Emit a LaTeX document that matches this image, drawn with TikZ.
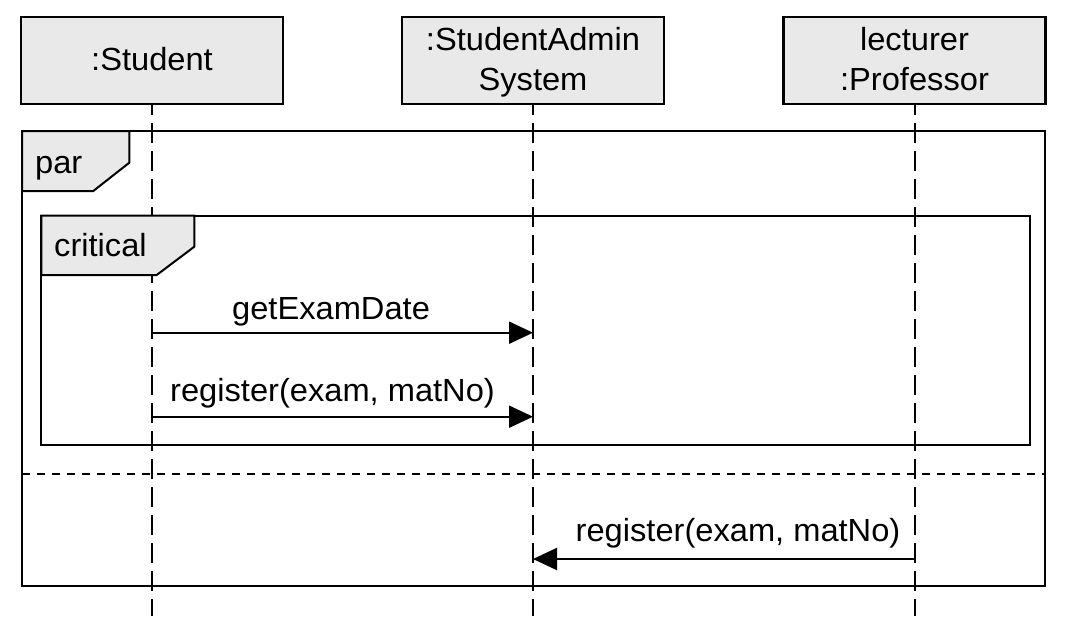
\documentclass[tikz,border=0pt]{standalone}
\usepackage{fontspec}
\setmainfont{Liberation Sans}[FakeStretch=1.02]
\usetikzlibrary{arrows.meta}
\definecolor{boxgray}{HTML}{E9E9E9}
\begin{document}
\begin{tikzpicture}[x=1pt,y=-1pt,
  every node/.style={font=\fontsize{32pt}{40pt}\selectfont, inner sep=0pt, text=black},
  obj/.style={draw=black, line width=2.2pt, fill=boxgray, minimum width=262pt, minimum height=87pt, align=center},
  one/.style={text height=23pt, text depth=4pt},
  two/.style={text height=63pt, text depth=4pt},
  life/.style={line width=2pt, dash pattern=on 20pt off 8pt, dash phase=10pt},
  frame/.style={draw=black, line width=2pt},
  tab/.style={draw=black, line width=2pt, fill=boxgray},
  sep/.style={line width=2pt, dash pattern=on 8pt off 7pt},
  msg/.style={line width=2pt, -{Triangle[length=24pt,width=22pt]}},
  lbl/.style={anchor=base west}
]
\fill[white] (0,0) rectangle (1066,640);
\useasboundingbox (0,0) rectangle (1066,640);

% lifeline heads
\node[obj,one] (stu) at (152,60.5) {:Student};
\node[obj,two] (sas) at (533,60.5) {:StudentAdmin\\System};
\node[obj,two] (prof) at (914.5,60.5) {lecturer\\:Professor};

% lifeline ends
\coordinate (stuE) at (152,616);
\coordinate (sasE) at (533,616);
\coordinate (profE) at (914.5,616);

% frames
\draw[frame] (22,131) rectangle (1044.5,586);
\draw[frame] (41.3,215.7) rectangle (1030,445.3);
\coordinate (sepL) at (22,474);
\coordinate (sepR) at (1044.5,474);
\draw[sep] (sepL) -- (sepR);

% lifelines
\draw[life] (stu.south) -- (stuE);
\draw[life] (sas.south) -- (sasE);
\draw[life] (prof.south) -- (profE);

% frame tabs
\draw[tab] (22,131) -- (129.3,131) -- (129.3,162.7) -- (93.3,191) -- (22,191) -- cycle;
\node[lbl] (partxt) at (35,173.3) {par};
\draw[tab] (41.3,215.7) -- (194.3,215.7) -- (194.3,246.7) -- (156.7,275) -- (41.3,275) -- cycle;
\node[lbl] (crittxt) at (54,256.7) {critical};

% messages
\coordinate (m1a) at (152,332.7);
\coordinate (m1b) at (533,332.7);
\draw[msg] (m1a) -- (m1b);
\node[lbl] (m1l) at (232,319.3) {getExamDate};

\coordinate (m2a) at (152,416.7);
\coordinate (m2b) at (533,416.7);
\draw[msg] (m2a) -- (m2b);
\node[lbl] (m2l) at (170,401) {register(exam, matNo)};

\coordinate (m3a) at (914.5,559);
\coordinate (m3b) at (533,559);
\draw[msg] (m3a) -- (m3b);
\node[lbl] (m3l) at (575.5,541.7) {register(exam, matNo)};
\end{tikzpicture}
\end{document}
